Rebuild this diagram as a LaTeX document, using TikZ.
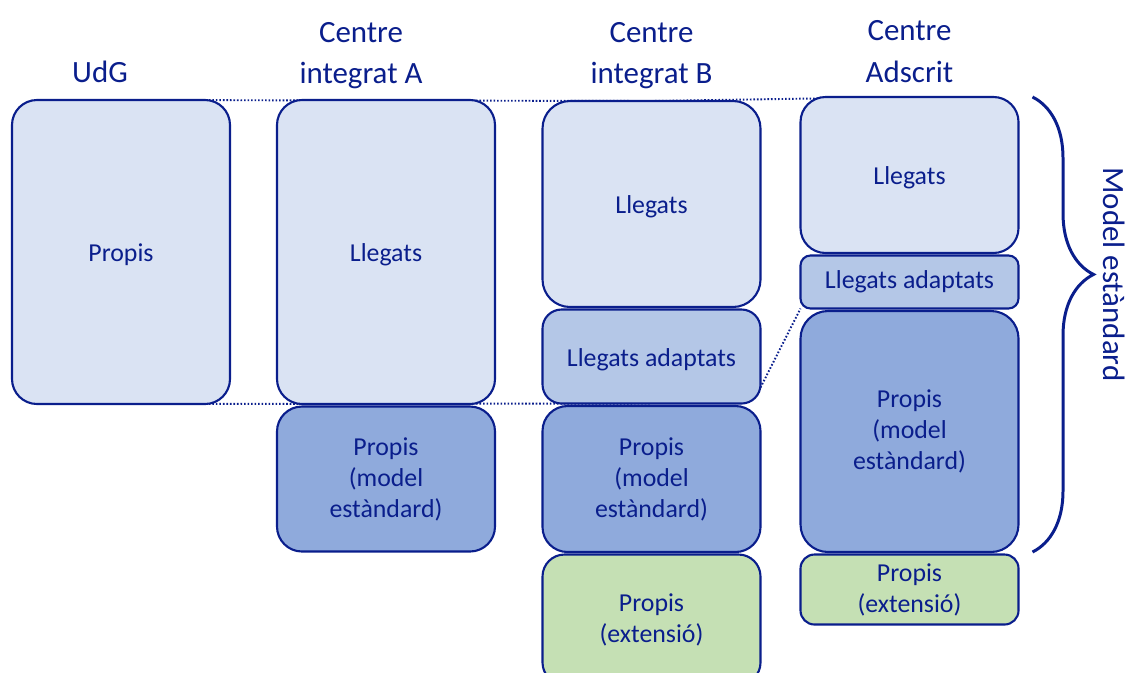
\documentclass[tikz,border=0pt]{standalone}
\usepackage{fontspec}
\setmainfont{Carlito}
\usepackage{tikz}
\usetikzlibrary{positioning,chains,backgrounds,decorations.pathreplacing}
\definecolor{navy}{RGB}{10,30,140}
\definecolor{llegatsfill}{HTML}{DAE3F3}
\definecolor{adaptatsfill}{HTML}{B4C7E7}
\definecolor{propisfill}{HTML}{8FAADC}
\definecolor{extfill}{HTML}{C5E0B4}
\def\boxwidth{4.36cm}
\def\boxfont{\fontsize{14.7}{17.6}\selectfont}
\def\titlefont{\fontsize{17.6}{23.8}\selectfont}
\tikzstyle{box}=[draw=navy, line width=1.2pt, inner sep=0pt, outer sep=0pt,
    text=navy, font=\boxfont, align=center, minimum width=\boxwidth]
\tikzstyle{oneline}=[text height=11pt, text depth=0pt]
\tikzstyle{llegats}=[style=box, fill=llegatsfill]
\tikzstyle{adaptats}=[style=box, fill=adaptatsfill]
\tikzstyle{propis}=[style=box, fill=propisfill]
\tikzstyle{extensio}=[style=box, fill=extfill]
\tikzstyle{title}=[text=navy, font=\titlefont, align=center, inner sep=0pt]
\tikzstyle{zoomline}=[draw=navy, line width=1.1pt, dash pattern=on 0.9pt off 1.1pt]
\tikzstyle{stdbrace}=[draw=navy, line width=1.7pt,
    decorate, decoration={brace, amplitude=1.22cm, aspect=0.39}]
\begin{document}
\begin{tikzpicture}[node distance=0.05cm]
    \useasboundingbox (0,0) rectangle (22.5,-13.44);
    % UdG
    \node[llegats, oneline, minimum height=6.08cm, rounded corners=0.5cm, anchor=north] (udg) at (2.42,-2.0) {Propis};
    % Centre integrat A
    \begin{scope}[start chain=cola going below]
        \node[llegats, oneline, on chain, minimum height=6.08cm, rounded corners=0.5cm, anchor=north] (a-llegats) at (7.72,-2.0) {Llegats};
        \node[propis, on chain, minimum height=2.9cm, rounded corners=0.5cm] (a-propis) {Propis\\(model\\estàndard)};
    \end{scope}
    % Centre integrat B
    \begin{scope}[start chain=colb going below]
        \node[llegats, oneline, on chain, minimum height=4.12cm, rounded corners=0.55cm, anchor=north] (b-llegats) at (13.03,-2.02) {Llegats};
        \node[adaptats, oneline, on chain, minimum height=1.88cm, rounded corners=0.38cm] (b-adaptats) {Llegats adaptats};
        \node[propis, on chain, minimum height=2.92cm, rounded corners=0.5cm] (b-propis) {Propis\\(model\\estàndard)};
        \node[extensio, on chain, minimum height=2.6cm, rounded corners=0.44cm] (b-extensio) {Propis\\(extensió)};
    \end{scope}
    % Centre Adscrit
    \begin{scope}[start chain=colc going below]
        \node[llegats, oneline, on chain, minimum height=3.12cm, rounded corners=0.5cm, anchor=north] (c-llegats) at (18.19,-1.94) {Llegats};
        \node[adaptats, on chain, minimum height=1.06cm, rounded corners=0.2cm] (c-adaptats) {Llegats adaptats};
        \node[propis, on chain, minimum height=4.82cm, rounded corners=0.55cm] (c-propis) {Propis\\(model\\estàndard)};
        \node[extensio, on chain, minimum height=1.4cm, rounded corners=0.28cm] (c-extensio) {Propis\\(extensió)};
    \end{scope}
    % titles
    \node[title, above=0.34cm of udg.north, xshift=-0.42cm] (udg-title) {UdG};
    \node[title, above=0.21cm of a-llegats.north, xshift=-0.5cm] (a-title) {Centre\\integrat A};
    \node[title, above=0.23cm of b-llegats.north] (b-title) {Centre\\integrat B};
    \node[title, above=0.28cm of c-llegats.north] (c-title) {Centre\\Adscrit};
    % dotted lines
    \begin{scope}[on background layer]
        \draw[zoomline] (udg.north) -- (b-llegats.north);
        \draw[zoomline] (udg.south) -- (b-adaptats.south);
        \draw[zoomline] (b-llegats.north) -- (c-llegats.north);
        \draw[zoomline] ([yshift=0.32cm]b-adaptats.south east) -- (c-adaptats.south west);
    \end{scope}
    % brace
    \draw[stdbrace] ([xshift=0.28cm]c-llegats.north east) -- ([xshift=0.28cm]c-propis.south east)
        coordinate[pos=0.39] (brace-tip);
    \node[title, rotate=-90, anchor=base] (std-label) at ([xshift=1.42cm]brace-tip) {Model estàndard};
\end{tikzpicture}
\end{document}
